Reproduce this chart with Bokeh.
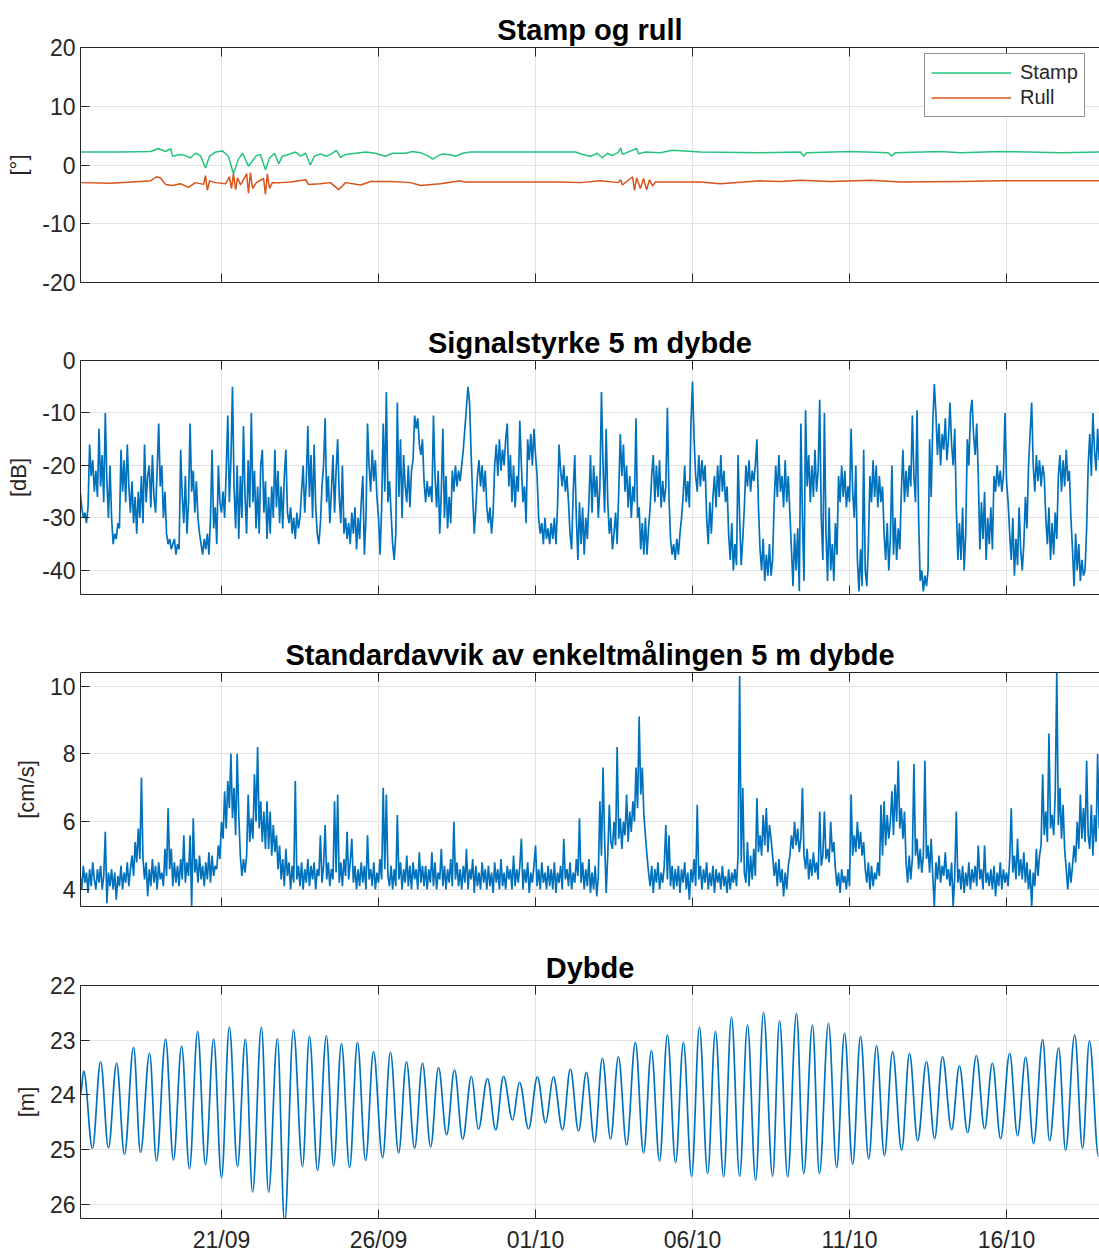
import numpy as np
from bokeh.plotting import figure
from bokeh.layouts import column
from bokeh.models import Range1d, FixedTicker, LinearAxis, Legend, LegendItem, ColumnDataSource
from bokeh.embed import file_html
from bokeh.resources import INLINE

# ---------------- data (time in days since 16/09 00:00) ----------------
tick_days = [5, 10, 15, 20, 25, 30]
tick_labels = ["21/09", "26/09", "01/10", "06/10", "11/10", "16/10"]
x_start_day = 0.51
x_end_day = 32.96

titles = ["Stamp og rull", "Signalstyrke 5 m dybde",
          "Standardavvik av enkeltmålingen 5 m dybde", "Dybde"]
ylabels = ["[°]", "[dB]", "[cm/s]", "[m]"]

stamp_t = [0.51, 1.78, 2.74, 2.99, 3.22, 3.38, 3.44, 3.69, 3.85, 4.01, 4.17, 4.33, 4.49, 4.62, 4.81,
           5.03, 5.22, 5.38, 5.54, 5.67, 5.86, 5.96, 6.11, 6.24, 6.40, 6.53, 6.69, 6.82, 6.94, 7.13,
           7.36, 7.52, 7.68, 7.83, 7.96, 8.15, 8.34, 8.47, 8.66, 8.79, 8.95, 9.27, 9.59, 9.90, 10.22,
           10.45, 10.86, 11.08, 11.34, 11.59, 11.72, 11.88, 12.04, 12.29, 12.45, 12.68, 12.93, 13.89,
           15.16, 16.27, 16.50, 16.75, 16.97, 17.13, 17.29, 17.45, 17.64, 17.71, 17.77, 18.22, 18.28,
           18.50, 18.98, 19.36, 20.25, 22.17, 23.44, 23.54, 23.63, 25.03, 26.24, 26.34, 26.46, 27.90,
           28.54, 29.81, 31.72, 32.96]
stamp_v = [2.2, 2.2, 2.3, 2.8, 2.3, 2.8, 1.5, 1.8, 1.6, 1.2, 2.0, 1.6, -0.5, 1.5, 2.2,
           2.4, 1.5, -1.5, 1.0, 2.0, -0.2, 0.5, 1.6, 1.8, -0.8, 1.2, 2.0, 0.2, 1.5, 1.8,
           2.2, 1.5, 2.0, 0.0, 1.5, 1.9, 1.5, 1.8, 2.5, 1.3, 1.8, 2.0, 2.2, 2.0, 1.5,
           2.0, 2.0, 2.3, 2.1, 1.5, 1.0, 1.5, 1.9, 1.7, 1.5, 2.0, 2.2, 2.2,
           2.2, 2.2, 1.8, 1.5, 2.0, 1.2, 2.0, 1.6, 2.2, 2.9, 1.8, 2.8, 1.9,
           2.2, 2.1, 2.5, 2.2, 2.1, 2.2, 1.5, 2.1, 2.3, 2.1, 1.5, 2.1, 2.3,
           2.1, 2.3, 2.1, 2.2]

rull_t = [0.51, 1.46, 2.42, 2.74, 2.93, 3.06, 3.22, 3.44, 3.69, 3.95, 4.17, 4.43, 4.49, 4.55, 4.62,
          4.81, 5.13, 5.25, 5.32, 5.38, 5.45, 5.51, 5.61, 5.80, 5.86, 5.92, 5.99, 6.11, 6.34, 6.40,
          6.46, 6.53, 6.62, 6.88, 7.20, 7.68, 7.77, 8.15, 8.47, 8.73, 8.95, 9.43, 9.75, 10.38, 11.02,
          11.34, 11.97, 12.61, 12.74, 13.89, 15.80, 16.43, 17.07, 17.64, 17.71, 17.77, 18.09, 18.15,
          18.22, 18.34, 18.44, 18.54, 18.63, 18.73, 18.82, 20.25, 20.89, 22.17, 22.80, 23.44, 24.39,
          25.67, 26.62, 28.54, 29.81, 32.96]
rull_v = [-3.0, -3.1, -2.8, -2.7, -2.0, -2.2, -3.3, -3.5, -3.2, -3.8, -3.0, -3.3, -1.8, -4.3, -2.7,
          -3.0, -3.2, -2.0, -4.0, -1.5, -4.2, -2.2, -3.4, -1.5, -4.8, -1.3, -4.0, -3.0, -2.3, -5.0,
          -1.5, -4.0, -3.0, -3.0, -2.9, -2.5, -3.3, -3.2, -3.0, -4.2, -3.0, -3.4, -2.8, -2.8, -3.0,
          -3.5, -3.2, -2.7, -2.9, -2.9, -2.9, -3.0, -2.7, -3.0, -2.5, -3.4, -2.0, -4.3,
          -2.2, -4.0, -2.3, -4.2, -2.5, -3.6, -2.9, -2.9, -3.2, -2.7, -2.8, -2.6, -2.8,
          -2.6, -2.9, -2.8, -2.7, -2.7]

# regularly sampled series (every 0.05 day from day 0.5), one row per day
sample_start_day = 0.5
sample_step_day = 0.05
signal_db = [
    -25, -28, -30, -29, -31, -28, -16, -22, -19, -25, -21, -26, -13, -24, -18, -27, -10, -23, -30, -20,
    -30, -35, -33, -34, -31, -32, -17, -25, -19, -27, -16, -24, -29, -23, -31, -26, -33, -25, -30, -22,
    -31, -16, -27, -22, -20, -28, -18, -26, -29, -21, -12, -24, -20, -30, -25, -33, -35, -34, -36, -35,
    -34, -37, -35, -36, -17, -26, -31, -22, -33, -27, -12, -25, -21, -29, -23, -30, -33, -35, -37, -34,
    -36, -33, -37, -30, -17, -32, -28, -35, -20, -27, -29, -25, -30, -21, -10.5, -27, -19, -5, -24, -32,
    -20, -34, -22, -30, -12.5, -26, -33, -19, -28, -10, -27, -21, -32, -24, -33, -20, -17, -29, -23, -34,
    -26, -33, -24, -30, -17, -28, -21, -31, -24, -32, -22, -17, -29, -31, -28, -33, -30, -34, -29, -32,
    -30, -25, -20, -29, -23, -12.5, -26, -18, -30, -16, -28, -33, -35, -31, -24, -20, -11, -27, -22, -31,
    -25, -18, -29, -21, -15, -26, -31, -20, -33, -30, -34, -31, -35, -29, -33, -28, -36, -30, -34, -27,
    -22, -37, -30, -12, -20, -25, -17, -23, -19, -26, -30, -37, -28, -12, -25, -6, -27, -23, -29, -35,
    -38, -33, -8, -26, -15, -30, -18, -24, -27, -20, -28, -21, -19, -10.5, -13, -11, -16, -18, -15, -23,
    -27, -23, -26, -24, -27, -10.5, -22, -28, -21, -33, -25, -13, -30, -22, -32, -26, -31, -21, -25, -20,
    -24, -21, -23, -20, -17, -13, -9, -5, -8, -18, -26, -33, -28, -22, -19, -24, -20, -25, -21, -28,
    -31, -28, -33, -29, -20, -16, -22, -15, -21, -17, -20, -15, -12, -24, -18, -27, -20, -28, -22, -25,
    -11.5, -20, -27, -24, -31, -15, -19, -14, -20, -13, -18, -22, -30, -33, -31, -35, -30, -34, -32, -35,
    -31, -34, -30, -35, -28, -16, -21, -24, -20, -25, -22, -27, -33, -36, -25, -18, -30, -38, -27, -35,
    -28, -37, -30, -34, -27, -18, -29, -20, -26, -22, -30, -24, -6, -20, -29, -13, -27, -33, -30, -36,
    -33, -29, -35, -25, -14, -22, -16, -25, -20, -28, -22, -30, -24, -27, -11, -30, -28, -36, -31, -37,
    -30, -37, -32, -28, -22, -18, -27, -20, -26, -19, -28, -23, -27, -24, -9, -26, -34, -37, -35, -38,
    -34, -37, -33, -30, -26, -20, -27, -23, -28, -12, -4, -15, -22, -25, -18, -24, -19, -23, -20, -30,
    -35, -27, -33, -26, -22, -28, -20, -26, -18, -25, -21, -27, -24, -33, -38, -31, -40, -35, -39, -18,
    -30, -39, -34, -28, -20, -24, -19, -25, -21, -23, -20, -15, -28, -36, -40, -34, -42, -37, -41, -35,
    -41, -38, -27, -20, -26, -18, -25, -22, -28, -19, -27, -22, -29, -36, -43, -33, -40, -32, -44, -12,
    -30, -42, -9.5, -24, -18, -27, -20, -26, -17, -25, -21, -7.5, -30, -38, -10, -33, -42, -28, -40, -35,
    -42, -31, -37, -22, -27, -20, -26, -21, -28, -24, -27, -13, -25, -30, -20, -38, -44, -36, -43, -17,
    -40, -43, -35, -22, -27, -19, -26, -20, -28, -22, -27, -24, -33, -38, -31, -40, -34, -20, -37, -30,
    -38, -32, -36, -25, -17, -27, -21, -26, -20, -24, -10.5, -22, -27, -9.5, -30, -42, -40, -44, -41, -43,
    -40, -15, -26, -12, -4.5, -10, -18, -12, -20, -14, -17, -11, -19, -15, -8, -16, -20, -13, -28, -38,
    -31, -38, -28, -40, -33, -15, -20, -10, -7.5, -14, -18, -12, -22, -36, -27, -34, -25, -38, -30, -35,
    -28, -36, -22, -25, -20, -24, -21, -25, -22, -10, -23, -27, -33, -38, -30, -41, -34, -39, -28, -36,
    -40, -35, -26, -32, -20, -14, -8, -20, -25, -18, -23, -19, -24, -20, -22, -30, -35, -28, -38, -31,
    -37, -29, -34, -22, -18, -25, -19, -24, -17, -23, -21, -30, -36, -43, -33, -40, -35, -42, -38, -41,
    -40, -32, -20, -14, -22, -10, -17, -21, -13, -19]
std_cms = [
    4.4, 4.0, 4.7, 4.2, 4.5, 3.9, 4.6, 4.1, 4.8, 4.3, 4.0, 4.6, 4.2, 4.7, 4.0, 4.4, 5.7, 3.6, 4.5, 4.1,
    4.6, 4.0, 4.5, 3.7, 4.4, 4.1, 4.7, 4.0, 4.5, 4.2, 4.8, 4.1, 4.6, 5.0, 4.4, 5.4, 4.8, 5.8, 4.9, 7.3,
    4.9, 4.3, 4.8, 3.8, 4.6, 4.1, 4.9, 4.2, 4.7, 4.0, 4.8, 4.3, 4.5, 4.1, 5.2, 4.4, 6.4, 4.6, 5.2, 4.1,
    4.8, 4.2, 4.7, 4.1, 4.9, 4.3, 5.6, 4.2, 4.8, 4.4, 5.6, 3.5, 6.1, 4.5, 4.9, 4.2, 5.0, 4.3, 4.7, 4.1,
    4.8, 4.3, 5.1, 4.2, 5.0, 4.4, 4.7, 4.6, 5.3, 4.9, 6.0, 5.5, 6.9, 5.8, 7.2, 6.4, 8.0, 6.1, 7.0, 5.6,
    8.0, 6.2, 5.0, 4.4, 4.9, 4.5, 5.0, 6.8, 5.4, 6.1, 5.5, 7.4, 6.0, 8.2, 5.8, 6.6, 5.4, 6.3, 5.2, 6.6,
    5.2, 6.3, 5.0, 5.9, 5.1, 5.6, 4.6, 5.3, 4.3, 4.9, 4.1, 5.2, 4.4, 4.8, 4.0, 4.7, 4.2, 7.2, 4.3, 4.7,
    4.1, 4.8, 4.0, 4.6, 4.2, 4.9, 4.1, 4.7, 4.3, 4.8, 4.0, 4.6, 4.4, 5.6, 4.2, 4.7, 5.9, 4.3, 4.8, 4.1,
    4.6, 4.3, 6.6, 4.5, 6.8, 4.2, 4.8, 4.1, 4.9, 4.4, 5.7, 4.3, 4.8, 5.5, 4.2, 4.7, 4.0, 4.6, 4.1, 4.8,
    4.2, 4.7, 4.0, 5.6, 4.3, 4.6, 4.1, 4.8, 4.0, 4.5, 4.2, 4.9, 4.3, 7.0, 4.6, 6.8, 4.4, 4.1, 4.7, 4.0,
    4.6, 4.1, 6.2, 4.3, 4.8, 4.0, 4.6, 4.2, 5.0, 4.1, 4.7, 4.0, 4.8, 4.3, 4.6, 4.0, 5.1, 4.2, 4.7, 4.1,
    4.7, 4.0, 4.6, 4.2, 5.1, 4.1, 4.8, 4.0, 4.5, 4.3, 5.2, 4.1, 4.7, 4.0, 4.6, 4.2, 4.9, 4.1, 6.0, 4.3,
    4.8, 4.1, 4.6, 4.0, 4.7, 4.2, 5.2, 4.0, 4.6, 4.3, 4.9, 3.9, 4.7, 4.1, 4.5, 4.0, 4.8, 4.2, 4.6, 4.0,
    4.7, 4.1, 4.5, 3.9, 4.8, 4.2, 4.6, 4.0, 4.9, 4.1, 4.5, 4.0, 4.7, 4.3, 4.6, 4.0, 5.0, 4.1, 4.6, 4.2,
    4.7, 5.5, 4.0, 4.6, 4.2, 4.8, 3.9, 4.5, 4.2, 4.7, 5.3, 4.1, 4.6, 4.0, 4.8, 4.2, 4.5, 4.0, 4.7, 4.1,
    4.6, 4.0, 4.8, 3.9, 4.5, 4.2, 4.7, 4.0, 5.5, 4.3, 4.6, 4.1, 4.8, 4.0, 4.5, 4.2, 4.9, 4.4, 6.1, 4.2,
    4.8, 4.0, 4.6, 4.1, 4.9, 3.9, 4.5, 4.0, 4.7, 3.8, 4.4, 6.6, 5.0, 7.6, 5.5, 3.9, 5.0, 6.5, 5.4, 5.2,
    6.0, 5.3, 8.2, 5.5, 6.1, 5.2, 6.0, 5.6, 6.8, 5.4, 6.3, 5.7, 6.6, 6.0, 7.6, 6.4, 9.1, 6.8, 7.6, 6.2,
    5.6, 5.0, 4.5, 4.1, 4.7, 3.9, 4.6, 4.2, 4.8, 4.0, 4.5, 4.2, 4.7, 5.9, 4.3, 5.6, 4.1, 4.7, 4.0, 4.6,
    4.1, 4.7, 3.9, 4.6, 4.2, 4.8, 4.0, 4.5, 3.7, 4.6, 4.2, 4.9, 4.1, 6.5, 4.3, 4.7, 4.0, 4.6, 4.2, 4.8,
    4.0, 4.5, 4.1, 4.7, 3.9, 4.6, 4.2, 4.5, 4.0, 4.7, 4.1, 4.4, 3.9, 4.6, 4.0, 4.5, 4.2, 4.6, 4.1, 5.0,
    10.3, 4.8, 7.0, 4.5, 4.2, 5.4, 4.1, 5.0, 4.3, 5.2, 4.4, 6.7, 5.1, 5.6, 5.0, 6.2, 5.3, 6.4, 5.1, 5.9,
    5.5, 5.0, 4.4, 4.8, 4.1, 4.9, 4.2, 4.6, 3.8, 4.5, 4.0, 4.7, 5.0, 5.6, 5.2, 6.0, 5.3, 5.8, 5.1, 5.5,
    7.0, 5.0, 4.6, 5.2, 4.3, 4.9, 4.4, 5.1, 4.5, 4.8, 4.3, 6.3, 4.7, 5.0, 6.3, 4.9, 5.2, 4.8, 6.0, 5.1,
    5.4, 4.6, 4.1, 4.5, 3.9, 4.6, 4.2, 4.4, 4.0, 4.6, 4.1, 6.8, 5.0, 5.6, 5.1, 6.0, 5.2, 5.7, 5.0, 5.4,
    4.6, 4.2, 4.8, 4.0, 4.7, 4.1, 4.5, 4.3, 4.8, 4.4, 6.5, 5.0, 6.6, 5.3, 6.2, 5.5, 6.0, 6.9, 5.6, 7.1,
    6.0, 7.8, 5.8, 6.4, 5.5, 6.3, 4.8, 4.2, 5.0, 4.3, 4.9, 7.7, 5.0, 5.5, 4.6, 5.2, 4.5, 5.0, 7.8, 4.9,
    5.3, 4.5, 5.5, 4.4, 3.5, 4.8, 4.3, 5.0, 4.2, 4.7, 4.4, 5.1, 4.3, 4.6, 4.1, 4.8, 3.5, 4.4, 6.3, 4.2,
    4.6, 4.0, 4.7, 3.9, 4.5, 4.1, 4.8, 4.0, 4.6, 4.2, 4.7, 4.1, 5.3, 4.3, 4.6, 4.0, 5.3, 4.2, 4.5, 4.1,
    4.6, 4.0, 4.7, 3.8, 4.5, 4.1, 4.8, 4.0, 4.6, 4.2, 4.5, 4.1, 4.9, 6.4, 4.5, 5.0, 4.3, 5.5, 4.4, 4.9,
    4.3, 5.1, 4.2, 4.8, 4.0, 4.6, 3.5, 4.5, 4.1, 5.2, 4.4, 5.0, 5.3, 7.4, 5.6, 6.3, 5.4, 8.6, 5.8, 6.2,
    5.6, 6.8, 10.4, 5.9, 7.0, 5.5, 6.5, 5.2, 4.6, 4.0, 4.8, 4.2, 4.7, 5.3, 4.8, 6.0, 5.2, 6.8, 5.5, 6.4,
    5.4, 7.8, 5.6, 5.2, 6.5, 5.0, 6.2, 5.4, 8.0, 5.8]

# tidal depth: successive extremes (high water / low water)
depth_t = [0.51, 0.61, 0.89, 1.15, 1.40, 1.66, 1.91, 2.20, 2.42, 2.71,
           2.93, 3.22, 3.47, 3.73, 3.98, 4.24, 4.49, 4.75, 5.00, 5.25,
           5.51, 5.76, 5.99, 6.27, 6.50, 6.78, 7.01, 7.29, 7.58, 7.80,
           8.06, 8.34, 8.57, 8.82, 9.08, 9.33, 9.59, 9.84, 10.13, 10.38,
           10.64, 10.89, 11.15, 11.40, 11.66, 11.91, 12.17, 12.42, 12.68, 12.96,
           13.18, 13.47, 13.73, 13.98, 14.27, 14.49, 14.78, 15.06, 15.32, 15.57,
           15.86, 16.11, 16.37, 16.62, 16.88, 17.13, 17.39, 17.64, 17.90, 18.18,
           18.44, 18.69, 18.95, 19.20, 19.46, 19.71, 19.97, 20.22, 20.48, 20.73,
           20.99, 21.24, 21.50, 21.75, 22.01, 22.26, 22.55, 22.77, 23.03, 23.31,
           23.54, 23.82, 24.04, 24.33, 24.59, 24.84, 25.10, 25.35, 25.61, 25.86,
           26.11, 26.37, 26.66, 26.91, 27.17, 27.45, 27.71, 27.96, 28.25, 28.50,
           28.76, 29.04, 29.30, 29.55, 29.81, 30.10, 30.35, 30.61, 30.86, 31.15,
           31.37, 31.66, 31.88, 32.17, 32.42, 32.64, 32.93]
depth_m = [24.0, 23.56, 24.98, 23.39, 24.97, 23.42, 25.09, 23.13, 25.05, 23.24,
           25.21, 22.98, 25.19, 23.11, 25.35, 22.84, 25.28, 22.98, 25.52, 22.76,
           25.31, 22.98, 25.78, 22.76, 25.78, 22.97, 26.35, 22.81, 25.31, 22.93,
           25.38, 22.92, 25.30, 23.06, 25.33, 23.04, 25.20, 23.21, 25.15, 23.22,
           25.06, 23.39, 24.98, 23.42, 24.95, 23.50, 24.73, 23.54, 24.81, 23.66,
           24.63, 23.70, 24.64, 23.66, 24.46, 23.77, 24.62, 23.67, 24.51, 23.67,
           24.64, 23.53, 24.66, 23.59, 24.87, 23.33, 24.81, 23.30, 24.92, 23.04,
           25.06, 23.19, 25.21, 22.90, 25.24, 23.04, 25.49, 22.76, 25.44, 22.84,
           25.50, 22.58, 25.49, 22.72, 25.56, 22.49, 25.49, 22.64, 25.50, 22.51,
           25.44, 22.72, 25.44, 22.69, 25.33, 22.87, 25.27, 22.93, 25.17, 23.10,
           25.11, 23.21, 25.01, 23.24, 24.84, 23.39, 24.80, 23.30, 24.64, 23.47,
           24.69, 23.28, 24.62, 23.42, 24.80, 23.24, 24.75, 23.31, 24.89, 22.99,
           24.84, 23.14, 25.01, 22.90, 24.98, 23.01, 25.12]

# ---------------- styling ----------------
FONT = "Liberation Sans"
AX = "#262626"
GRID = "#e2e2e2"
BLUE = "#0072BD"
GREEN = "#24C47E"
ORANGE = "#D95319"
FRAME_W = 1019
LW = 1.7


def tick_only_axis():
    # ticks drawn as inward minor ticks, no labels
    return LinearAxis(ticker=FixedTicker(ticks=[-1000], minor_ticks=tick_days),
                      minor_tick_in=9, minor_tick_out=0, major_tick_in=0, major_tick_out=0,
                      axis_line_color=AX, minor_tick_line_color=AX,
                      major_label_standoff=0)


def make_fig(title, yr, yticks, ylabel, top, frame_h, bottom, show_x):
    p = figure(frame_width=FRAME_W, frame_height=frame_h,
               x_range=Range1d(x_start_day, x_end_day), y_range=Range1d(*yr),
               output_backend="svg", toolbar_location=None,
               x_axis_location=None, y_axis_location=None,
               min_border_left=80, min_border_right=0,
               min_border_top=top, min_border_bottom=bottom, title=title)
    p.title.text_font = FONT
    p.title.text_font_size = "29px"
    p.title.text_font_style = "bold"
    p.title.text_color = "#000000"
    p.title.align = "center"
    p.title.standoff = 3
    p.outline_line_color = None
    p.background_fill_color = "white"
    p.border_fill_color = "white"

    if show_x:
        xa = LinearAxis(ticker=FixedTicker(ticks=tick_days),
                        major_label_overrides={d: l for d, l in zip(tick_days, tick_labels)},
                        major_tick_in=9, major_tick_out=0, minor_tick_line_color=None,
                        axis_line_color=AX, major_tick_line_color=AX,
                        major_label_text_font=FONT, major_label_text_font_size="23px",
                        major_label_text_color=AX, major_label_standoff=8)
    else:
        xa = tick_only_axis()
    p.add_layout(xa, "below")
    p.add_layout(tick_only_axis(), "above")

    ya = LinearAxis(ticker=FixedTicker(ticks=yticks),
                    major_label_overrides={v: f"{v:g}" for v in yticks},
                    major_tick_in=9, major_tick_out=0, minor_tick_line_color=None,
                    axis_line_color=AX, major_tick_line_color=AX,
                    major_label_text_font=FONT, major_label_text_font_size="23px",
                    major_label_text_color=AX, major_label_standoff=5,
                    axis_label=ylabel, axis_label_text_font=FONT,
                    axis_label_text_font_size="22px", axis_label_text_font_style="normal",
                    axis_label_text_color=AX, axis_label_standoff=8)
    p.add_layout(ya, "left")

    p.xgrid.ticker = FixedTicker(ticks=tick_days)
    p.ygrid.ticker = FixedTicker(ticks=yticks)
    p.xgrid.grid_line_color = GRID
    p.ygrid.grid_line_color = GRID
    return p


# Panel 1
p1 = make_fig(titles[0], (-20, 20), [-20, -10, 0, 10, 20], ylabels[0], 47, 235, 31, False)
r_s = p1.line(stamp_t, stamp_v, line_color=GREEN, line_width=1.5)
r_r = p1.line(rull_t, rull_v, line_color=ORANGE, line_width=1.5)
leg = Legend(items=[LegendItem(label="Stamp", renderers=[r_s]),
                    LegendItem(label="Rull", renderers=[r_r])],
             location=(844, 165), glyph_width=80, glyph_height=25, label_height=25,
             label_text_font=FONT, label_text_font_size="20px", label_text_color=AX,
             border_line_color="#262626", border_line_width=1,
             padding=6, spacing=0, margin=0, label_standoff=9,
             background_fill_alpha=1)
p1.add_layout(leg, "center")

# Panel 2
sig_t = sample_start_day + sample_step_day * np.arange(len(signal_db))
p2 = make_fig(titles[1], (-44.6, 0), [-40, -30, -20, -10, 0], ylabels[1], 47, 234, 32, False)
p2.line(sig_t, signal_db, line_color=BLUE, line_width=LW)

# Panel 3
std_t = sample_start_day + sample_step_day * np.arange(len(std_cms))
p3 = make_fig(titles[2], (3.5, 10.4), [4, 6, 8, 10], ylabels[2], 46, 234, 33, False)
p3.line(std_t, std_cms, line_color=BLUE, line_width=LW)

# Panel 4 (depth axis reversed); extremes joined with smooth cubic segments
p4 = make_fig(titles[3], (26.26, 22), [22, 23, 24, 25, 26], ylabels[3], 46, 233, 32, True)
dt = np.array(depth_t)
dm = np.array(depth_m)
seg = ColumnDataSource(dict(
    x0=dt[:-1], y0=dm[:-1], x1=dt[1:], y1=dm[1:],
    cx0=dt[:-1] + 0.36 * (dt[1:] - dt[:-1]), cy0=dm[:-1],
    cx1=dt[1:] - 0.36 * (dt[1:] - dt[:-1]), cy1=dm[1:]))
p4.bezier(x0="x0", y0="y0", x1="x1", y1="y1", cx0="cx0", cy0="cy0", cx1="cx1", cy1="cy1",
          source=seg, line_color=BLUE, line_width=LW)

layout = column(p1, p2, p3, p4, spacing=0)
open("out.html", "w").write(file_html(layout, INLINE))
